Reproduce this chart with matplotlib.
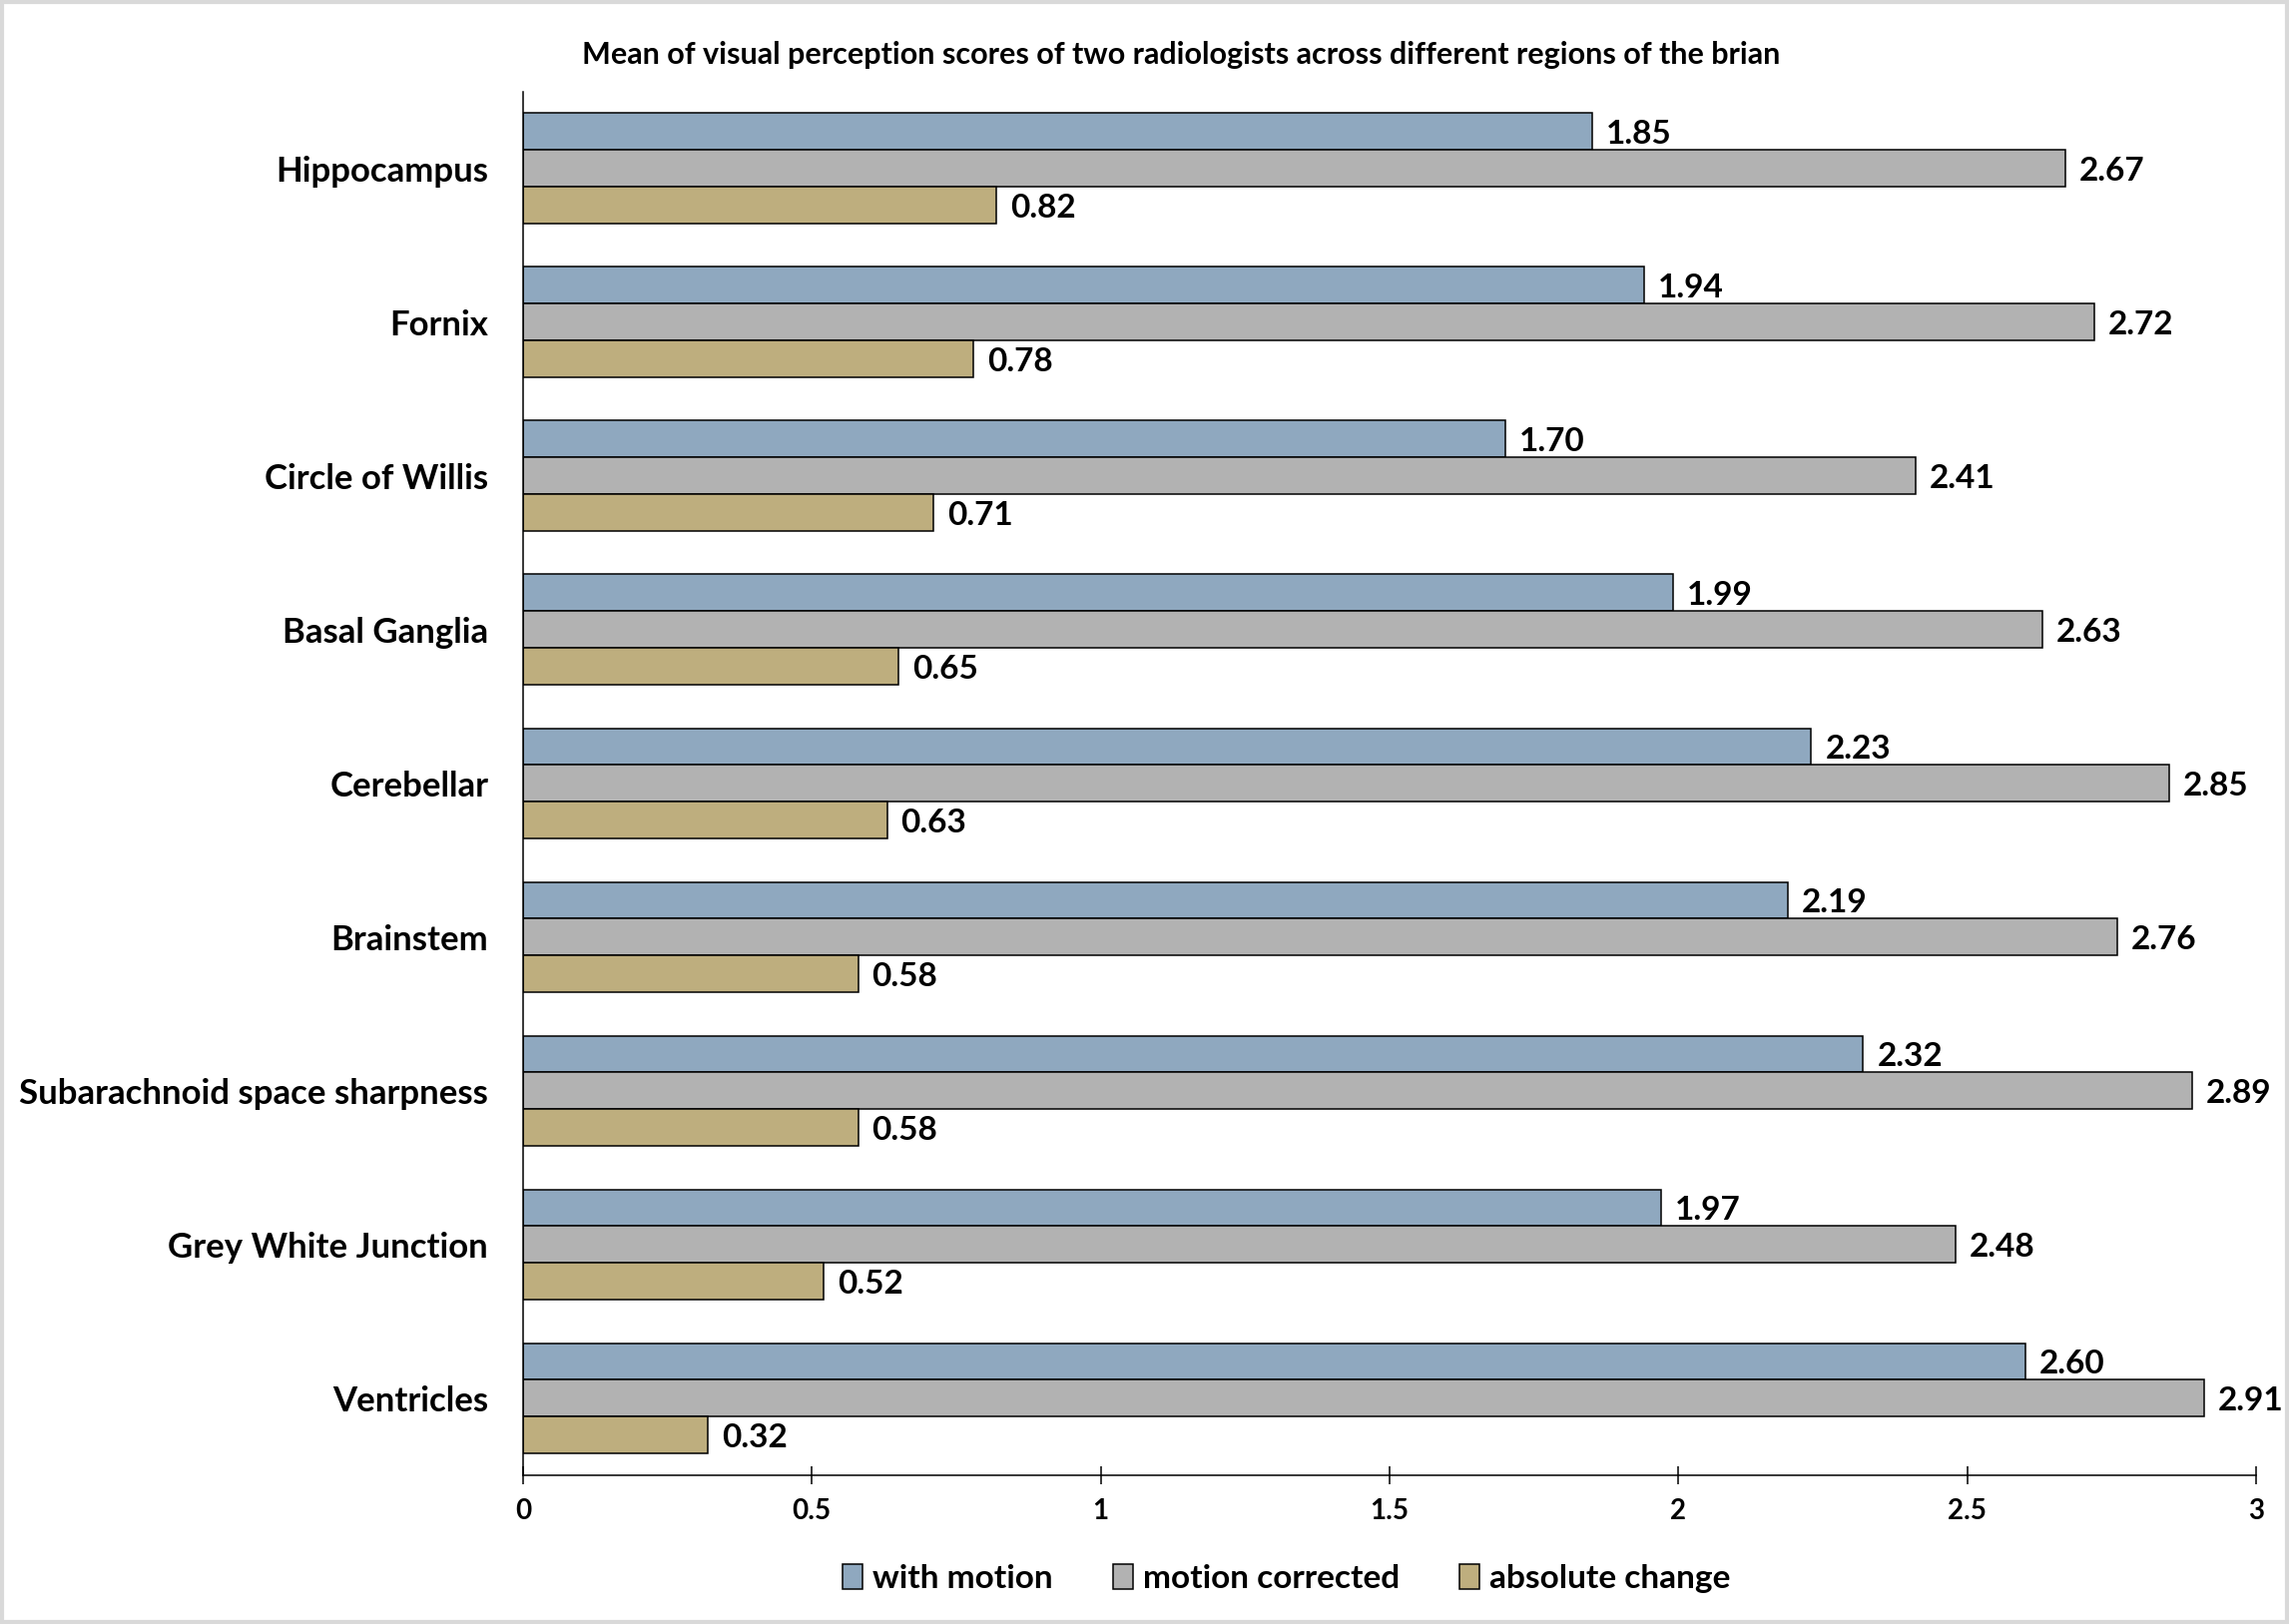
import numpy as np
import matplotlib.pyplot as plt
from matplotlib.patches import Rectangle

plt.rcParams['font.family'] = ['Lato', 'DejaVu Sans']
plt.rcParams['font.weight'] = 'bold'

# Data
regions = ['Hippocampus', 'Fornix', 'Circle of Willis', 'Basal Ganglia', 'Cerebellar',
           'Brainstem', 'Subarachnoid space sharpness', 'Grey White Junction', 'Ventricles']
with_motion = [1.85, 1.94, 1.70, 1.99, 2.23, 2.19, 2.32, 1.97, 2.60]
motion_corrected = [2.67, 2.72, 2.41, 2.63, 2.85, 2.76, 2.89, 2.48, 2.91]
absolute_change = [0.82, 0.78, 0.71, 0.65, 0.63, 0.58, 0.58, 0.52, 0.32]

series_names = ['with motion', 'motion corrected', 'absolute change']
colors = ['#8FA8BF', '#B2B2B2', '#BEAE7E']

fig = plt.figure(figsize=(22.93, 16.27), dpi=100)
ax = fig.add_axes([0.2285, 0.0916, 0.7571, 0.8519])

y = np.arange(len(regions))
h = 0.24  # bar height
for k, (vals, name, col) in enumerate(zip([with_motion, motion_corrected, absolute_change],
                                          series_names, colors)):
    bars = ax.barh(y + (k - 1) * h, vals, height=h, color=col, edgecolor='black',
                   linewidth=1.1, label=name)
    labels = ax.bar_label(bars, fmt='%.2f', padding=10, fontsize=24, fontweight='bold')
    for t in labels:
        t.set_va('center_baseline')

ax.set_ylim(len(regions) - 0.5, -0.5)
ax.set_xlim(0, 3)
ax.set_yticks(y)
ax.set_yticklabels(regions, fontsize=25, fontweight='bold')
ax.set_xticks([0, 0.5, 1, 1.5, 2, 2.5, 3])
ax.set_xticklabels(['0', '0.5', '1', '1.5', '2', '2.5', '3'], fontsize=20, fontweight='bold')
ax.tick_params(axis='y', length=0, pad=25)
ax.tick_params(axis='x', direction='inout', length=13, width=1.1, pad=10)

for s in ['top', 'right']:
    ax.spines[s].set_visible(False)
for s in ['left', 'bottom']:
    ax.spines[s].set_linewidth(1.1)

fig.text(0.516, 0.966, 'Mean of visual perception scores of two radiologists across different regions of the brian',
         ha='center', va='center', fontsize=22, fontweight='bold')

fig.legend(loc='center', bbox_to_anchor=(0.562, 0.028), ncol=3, frameon=False,
           fontsize=24, handlelength=0.6, handleheight=0.8, handletextpad=0.3,
           columnspacing=1.8)

# light grey frame around the whole chart
fig.patches.append(Rectangle((0.001, 0.001), 0.998, 0.998, transform=fig.transFigure,
                             fill=False, edgecolor='#D9D9D9', linewidth=3))

fig.savefig('out.png', dpi=100)
